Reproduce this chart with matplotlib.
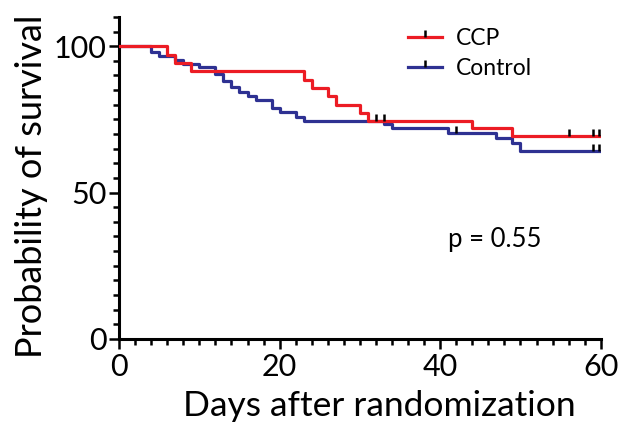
import matplotlib.pyplot as plt
from matplotlib.lines import Line2D
from matplotlib.ticker import MultipleLocator

plt.rcParams['font.family'] = ['Lato', 'DejaVu Sans']

# Kaplan-Meier step data (days, % surviving)
ccp_days = [0, 6, 7, 9, 23, 24, 26, 27, 30, 31, 44, 49, 60]
ccp_surv = [100, 97.1, 94.3, 91.4, 88.6, 85.7, 82.9, 80.0, 77.1, 74.3, 72.0, 69.3, 69.3]
ccp_cens_days = [32, 56, 59, 59.8]
ccp_cens_surv = [74.3, 69.3, 69.3, 69.3]

ctl_days = [0, 4, 5, 7, 8, 10, 12, 13, 14, 15, 16, 17, 19, 20, 22, 23, 33, 34, 41, 47, 49, 50, 60]
ctl_surv = [100, 97.9, 96.5, 95.2, 94.0, 92.8, 90.4, 88.0, 86.0, 84.3, 82.8, 81.7, 78.9, 77.5,
            75.9, 74.6, 73.3, 71.9, 70.4, 68.7, 67.0, 64.3, 64.3]
ctl_cens_days = [33, 42, 59, 59.8]
ctl_cens_surv = [74.6, 70.4, 64.3, 64.3]

red = '#EC1C24'
blue = '#2E3192'

fig = plt.figure(figsize=(6.2, 4.22), dpi=100)
ax = fig.add_axes([0.192, 0.197, 0.777, 0.763])

ax.step(ctl_days, ctl_surv, where='post', color=blue, lw=2.3, zorder=2)
ax.step(ccp_days, ccp_surv, where='post', color=red, lw=2.3, zorder=3)
ax.plot(ccp_cens_days, ccp_cens_surv, ls='none', marker=2, ms=5, mew=1.8, color='black', zorder=4, clip_on=False)
ax.plot(ctl_cens_days, ctl_cens_surv, ls='none', marker=2, ms=5, mew=1.8, color='black', zorder=4, clip_on=False)

ax.set_xlim(0, 60)
ax.set_ylim(0, 110)
ax.set_xticks([0, 20, 40, 60])
ax.set_yticks([0, 50, 100])
ax.xaxis.set_minor_locator(MultipleLocator(2))
ax.yaxis.set_minor_locator(MultipleLocator(5))

for s in ['top', 'right']:
    ax.spines[s].set_visible(False)
for s in ['left', 'bottom']:
    ax.spines[s].set_linewidth(2.2)

ax.tick_params(which='major', length=7, width=1.8, labelsize=22, pad=2)
ax.tick_params(which='minor', length=4.3, width=1.8)
ax.tick_params(axis='x', which='major', pad=3)

ax.set_xlabel('Days after randomization', fontsize=25.5, labelpad=7)
ax.set_ylabel('Probability of survival', fontsize=26, labelpad=4)
ax.xaxis.label.set_x(0.541)
ax.yaxis.label.set_y(0.474)

handles = [
    Line2D([0], [0], color=red, lw=2.3, marker=2, ms=5, mec='black', mew=1.8),
    Line2D([0], [0], color=blue, lw=2.3, marker=2, ms=5, mec='black', mew=1.8),
]
ax.legend(handles, ['CCP', 'Control'], loc='upper left', bbox_to_anchor=(0.557, 1.03),
          frameon=False, fontsize=16.5, handlelength=1.5, handletextpad=0.6,
          labelspacing=0.4, numpoints=1)

ax.text(0.683, 0.31, 'p = 0.55', transform=ax.transAxes, fontsize=18.5, va='center')

fig.savefig('out.png', dpi=100)
